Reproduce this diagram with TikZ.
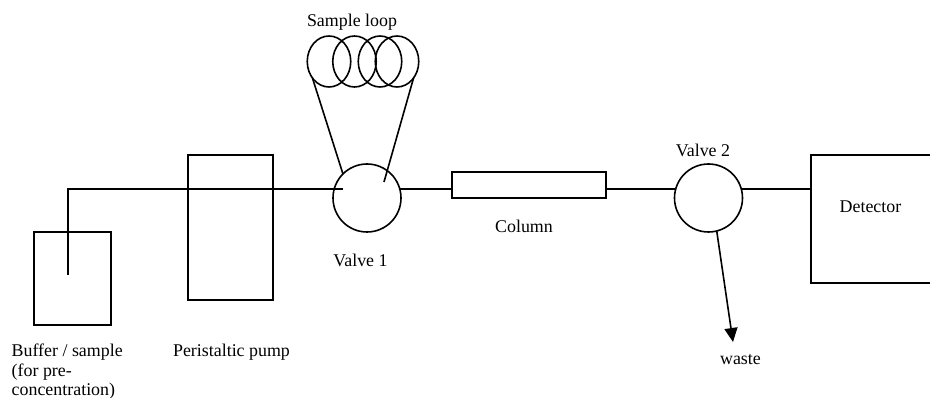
\documentclass[tikz,border=0pt]{standalone}
\usepackage{fontspec}
\setmainfont{Liberation Serif}
\usetikzlibrary{arrows.meta, positioning, shapes.geometric}

\begin{document}
\begin{tikzpicture}[
    x=1pt, y=-1pt,
    node distance=6pt, auto,
    block/.style ={rectangle, draw=black, line width=1.6pt, inner sep=0pt, outer sep=0pt, anchor=north west},
    valve/.style ={circle, draw=black, line width=1.6pt, inner sep=0pt, outer sep=0pt, minimum size=68pt},
    loopring/.style ={ellipse, draw=black, line width=1.6pt, inner sep=0pt, outer sep=0pt, minimum width=43.5pt, minimum height=51pt},
    line/.style ={draw, line width=1.6pt},
    tag/.style ={inner sep=0pt, font=\fontsize{17.9}{19.5}\selectfont},
]
\useasboundingbox (0,0) rectangle (930,398);

% Nodes
\node [block, minimum width=77pt, minimum height=93pt] (buffer) at (34,232) {};
\node [block, minimum width=85pt, minimum height=145pt] (pump) at (188,155) {};
\node [valve] (valve1) at (367,198) {};
\node [block, minimum width=154pt, minimum height=26pt] (column) at (452,172) {};
\node [valve] (valve2) at (708.5,198) {};
\node [block, minimum width=135pt, minimum height=128pt] (detector) at (811,155) {};

% Loop
\node [loopring] (loop1) at (329,61.5) {};
\node [loopring] (loop2) at (354.5,61.5) {};
\node [loopring] (loop3) at (380,61.5) {};
\node [loopring] (loop4) at (397,61.5) {};

% Free ends
\coordinate (tubeend) at (68,275);
\coordinate (tubecorner) at (68,189);
\coordinate (valve1in) at (343,189);
\coordinate (loopend) at (384,182);
\coordinate (wastetip) at (733,342);

% Labels
\node [tag] (looplabel) at (352,22) {Sample loop};
\node [tag] (valve1label) at (360.5,260.5) {Valve 1};
\node [tag] (columnlabel) at (524,226.5) {Column};
\node [tag] (valve2label) at (703,150) {Valve 2};
\node [tag] (detectorlabel) at (870.5,206.5) {Detector};
\node [tag] (wastelabel) at (740.5,360) {waste};
\node [tag] (pumplabel) at (231.5,352) {Peristaltic pump};
\node [tag, anchor=north west, align=left] (bufferlabel) at (11.5,344) {Buffer / sample\\(for pre-\\concentration)};

% Lines
\path [line] (tubeend) -- (tubecorner) -- (valve1in);
\path [line] (valve1.15) -- (valve1.15 -| column.west);
\path [line] (column.east |- valve2.165) -- (valve2.165);
\path [line] (valve2.15) -- (valve2.15 -| detector.west);
\path [line] (loop1.-135) -- (valve1.135);
\path [line] (loop4.-45) -- (loopend);
\path [line, -{Triangle[width=13pt,length=14pt]}] (valve2.-76) -- (wastetip);

\end{tikzpicture}
\end{document}
